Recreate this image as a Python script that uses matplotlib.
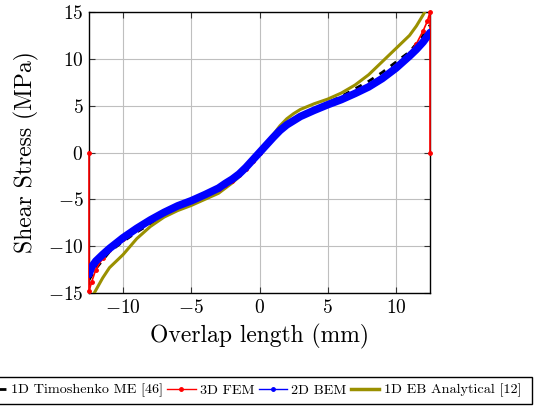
import numpy as np
import matplotlib
matplotlib.use('Agg')
import matplotlib.pyplot as plt
from matplotlib.lines import Line2D
from matplotlib.patches import Rectangle

plt.rcParams['font.family'] = 'serif'
plt.rcParams['font.serif'] = ['cmr10']
plt.rcParams['mathtext.fontset'] = 'cm'
plt.rcParams['axes.formatter.use_mathtext'] = True

# 2D BEM
x_bem = [-12.5, -12.3, -12.0, -11.5, -11.0, -10.0, -9.0, -8.0, -7.0, -6.0, -5.0, -4.0, -3.0, -2.5, -2.0, -1.5, -1.0, -0.5,
         0.0, 0.5, 1.0, 1.5, 2.0, 2.5, 3.0, 4.0, 5.0, 6.0, 7.0, 8.0, 9.0, 10.0, 11.0, 11.5, 12.0, 12.5]
y_bem = [-13.0, -12.2, -11.6, -10.9, -10.25, -9.1, -8.1, -7.2, -6.4, -5.7, -5.15, -4.5, -3.8, -3.3, -2.85, -2.3, -1.6, -0.8,
         0.0, 0.8, 1.6, 2.35, 2.95, 3.4, 3.85, 4.5, 5.1, 5.65, 6.3, 7.0, 7.9, 9.0, 10.3, 11.0, 11.8, 12.8]

# 3D FEM
x_fem = [-12.5, -12.5, -12.3, -12.0, -11.5, -11.0, -10.0, -9.0, -8.0, -7.0, -6.0, -5.0, -4.0, -3.0, -2.5, -2.0, -1.5, -1.0, -0.5,
         0.0, 0.5, 1.0, 1.5, 2.0, 2.5, 3.0, 4.0, 5.0, 6.0, 7.0, 8.0, 9.0, 10.0, 11.0, 11.5, 12.0, 12.3, 12.5, 12.5]
y_fem = [0.0, -14.8, -13.8, -12.5, -11.3, -10.4, -9.2, -8.15, -7.25, -6.45, -5.75, -5.15, -4.55, -3.9, -3.45, -3.0, -2.45, -1.75, -0.9,
         0.0, 0.9, 1.75, 2.5, 3.05, 3.5, 3.9, 4.55, 5.15, 5.7, 6.35, 7.1, 8.0, 9.15, 10.6, 11.6, 13.0, 14.0, 15.0, 0.0]

# 1D Timoshenko ME
x_tim = [-12.5, -12.0, -11.5, -11.0, -10.0, -9.0, -8.0, -7.0, -6.0, -5.0, -4.0, -3.0, -2.5, -2.0, -1.5, -1.0, -0.5,
         0.0, 0.5, 1.0, 1.5, 2.0, 2.5, 3.0, 4.0, 5.0, 6.0, 7.0, 8.0, 9.0, 10.0, 11.0, 11.5, 12.0, 12.5]
y_tim = [-13.6, -12.4, -11.5, -10.6, -9.5, -8.5, -7.6, -6.75, -5.95, -5.3, -4.6, -3.9, -3.45, -3.0, -2.4, -1.65, -0.85,
         0.0, 0.85, 1.65, 2.4, 3.0, 3.45, 3.9, 4.6, 5.3, 6.0, 6.8, 7.6, 8.55, 9.65, 10.75, 11.6, 12.5, 13.6]

# 1D EB Analytical
x_eb = [-12.5, -12.0, -11.5, -11.0, -10.0, -9.0, -8.0, -7.0, -6.0, -5.0, -4.0, -3.0, -2.5, -2.0, -1.5, -1.0, -0.5,
        0.0, 0.5, 1.0, 1.5, 2.0, 2.5, 3.0, 4.0, 5.0, 6.0, 7.0, 8.0, 9.0, 10.0, 11.0, 11.5, 12.0, 12.5]
y_eb = [-16.0, -14.7, -13.4, -12.3, -10.9, -9.2, -7.9, -6.9, -6.2, -5.65, -5.0, -4.35, -3.8, -3.25, -2.6, -1.8, -0.9,
        0.0, 0.95, 1.9, 2.85, 3.6, 4.15, 4.6, 5.2, 5.7, 6.35, 7.2, 8.3, 9.7, 11.1, 12.5, 13.5, 14.7, 16.0]

labels = ['1D Timoshenko ME [46]', '3D FEM', '2D BEM', '1D EB Analytical [12]']
c_eb = '#9a9000'

fig = plt.figure(figsize=(5.34, 4.08), dpi=100)
ax = fig.add_axes([89/534, 1-293/408, (430-89)/534, (293-12)/408])

ax.plot(x_eb, y_eb, color=c_eb, lw=2.2, zorder=3)
ax.plot(x_fem, y_fem, color='red', lw=1.2, marker='o', ms=2.5, zorder=4, clip_on=False)
ax.plot(x_bem, y_bem, color='blue', lw=5.5, solid_capstyle='round', solid_joinstyle='round', zorder=5)
ax.plot(x_tim, y_tim, color='black', lw=2, ls=(0, (2.5, 2.5)), zorder=2)

ax.set_xlim(-12.5, 12.5)
ax.set_ylim(-15, 15)
ax.set_xticks([-10, -5, 0, 5, 10])
ax.set_yticks([-15, -10, -5, 0, 5, 10, 15])
ax.grid(True, color='#bfbfbf', lw=0.8)
ax.set_axisbelow(True)
ax.tick_params(direction='in', top=True, right=True, labelsize=14, length=4, pad=4, color='#333333')
for s in ax.spines.values():
    s.set_linewidth(1.0)
ax.set_xlabel('Overlap length (mm)', fontsize=17, labelpad=5)
ax.set_ylabel('Shear Stress (MPa)', fontsize=17, labelpad=6)

handles = [Line2D([], [], color='black', lw=2, ls=(0, (2.5, 2.5))),
           Line2D([], [], color='red', lw=1, marker='o', ms=2.5),
           Line2D([], [], color='blue', lw=1, marker='o', ms=2.5),
           Line2D([], [], color=c_eb, lw=2.5)]
leg = fig.legend(handles, labels, loc='center right', bbox_to_anchor=(521/534, 1-390.5/408),
                 bbox_transform=fig.transFigure, ncol=4, fontsize=10.2, frameon=False,
                 handlelength=2.0, handletextpad=0.3, columnspacing=0.3, borderpad=0, borderaxespad=0)
fig.add_artist(Rectangle((-10/534, 1-404/408), 542/534, 27/408, transform=fig.transFigure,
                         fill=False, edgecolor='black', lw=1.0, clip_on=False))

fig.savefig('out.png', dpi=100)
